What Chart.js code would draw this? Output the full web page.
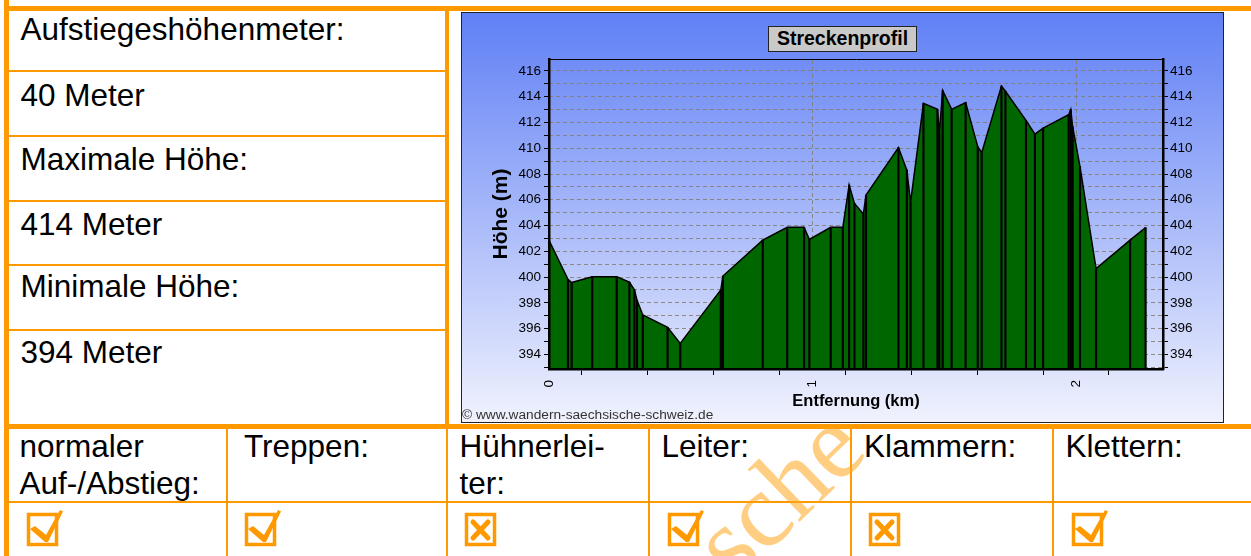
<!DOCTYPE html>
<html>
<head>
<meta charset="utf-8">
<script src="https://cdn.jsdelivr.net/npm/chart.js@4.4.1/dist/chart.umd.min.js"></script>
<style>
  html, body { margin: 0; padding: 0; background: #fff; }
  body { width: 1251px; height: 556px; position: relative; overflow: hidden; font-family: "Liberation Sans", Arial, sans-serif; }
  .ln { position: absolute; background: #ff9900; z-index: 1; }
  .txt { position: absolute; font-size: 31.5px; line-height: 36.7px; color: #000; white-space: nowrap; z-index: 3; }
  .cb { position: absolute; z-index: 3; }
  .mark { position: absolute; left: 778px; top: 494px; transform: translate(-50%, -50%) rotate(-44deg);
          font-family: "Liberation Serif", "DejaVu Serif", serif; font-size: 106px; line-height: 106px;
          color: rgba(255, 165, 30, 0.55); z-index: 2; white-space: nowrap; }
  #profil { position: absolute; left: 461px; top: 12px; width: 763px; height: 411px; box-sizing: border-box;
            border: 1px solid #222; background: linear-gradient(to bottom, #6080f5, #f0f2fd); z-index: 4; }
  #profil canvas { position: absolute; left: 0; top: 0; }
  #titel { position: absolute; left: 306px; top: 13px; width: 149px; height: 26px; box-sizing: border-box;
           border: 1.5px solid #222; background: #c9c9c9; font-weight: bold; font-size: 19.5px; line-height: 23px;
           text-align: center; color: #000; }
  #copy { position: absolute; left: 0; top: 394px; font-size: 13.7px; line-height: 16px; color: #333; white-space: nowrap; }
</style>
</head>
<body>

<!-- Rahmenlinien -->
<div class="ln" style="left:4px;top:0;width:5px;height:556px"></div>
<div class="ln" style="left:4px;top:6px;width:1247px;height:5px"></div>
<div class="ln" style="left:445px;top:11px;width:3.5px;height:414px"></div>
<div class="ln" style="left:9px;top:70px;width:436px;height:2px"></div>
<div class="ln" style="left:9px;top:135px;width:436px;height:2px"></div>
<div class="ln" style="left:9px;top:200px;width:436px;height:2px"></div>
<div class="ln" style="left:9px;top:264px;width:436px;height:2px"></div>
<div class="ln" style="left:9px;top:329px;width:436px;height:2px"></div>
<div class="ln" style="left:4px;top:424px;width:1247px;height:5px"></div>
<div class="ln" style="left:9px;top:501px;width:1242px;height:2px"></div>
<div class="ln" style="left:225.5px;top:428px;width:2px;height:128px"></div>
<div class="ln" style="left:446px;top:428px;width:2px;height:128px"></div>
<div class="ln" style="left:648px;top:428px;width:2px;height:128px"></div>
<div class="ln" style="left:850px;top:428px;width:2px;height:128px"></div>
<div class="ln" style="left:1052px;top:428px;width:2px;height:128px"></div>

<div class="mark">sche</div>

<!-- linke Spalte -->
<div class="txt" style="left:20.5px;top:11.4px">Aufstiegeshöhenmeter:</div>
<div class="txt" style="left:20.5px;top:76.7px">40 Meter</div>
<div class="txt" style="left:20.5px;top:140.7px">Maximale Höhe:</div>
<div class="txt" style="left:20.5px;top:205.7px">414 Meter</div>
<div class="txt" style="left:20.5px;top:268.4px">Minimale Höhe:</div>
<div class="txt" style="left:20.5px;top:334px">394 Meter</div>

<!-- untere Tabelle -->
<div class="txt" style="left:19.5px;top:428px">normaler<br>Auf-/Abstieg:</div>
<div class="txt" style="left:244px;top:428px">Treppen:</div>
<div class="txt" style="left:459.5px;top:428px">Hühnerlei-<br>ter:</div>
<div class="txt" style="left:661.5px;top:428px">Leiter:</div>
<div class="txt" style="left:864px;top:428px">Klammern:</div>
<div class="txt" style="left:1065.5px;top:428px">Klettern:</div>

<svg class="cb" style="left:24.7px;top:509px" width="40" height="40" viewBox="0 0 40 40">
  <rect x="3.5" y="5.5" width="28" height="30" fill="none" stroke="#ff9900" stroke-width="3.5"/>
  <path d="M5 20 L10 17 L21 26 L35 1 L38 2.5 L23 33 L20 33 Z" fill="#ff9900"/>
</svg>
<svg class="cb" style="left:243.2px;top:509px" width="40" height="40" viewBox="0 0 40 40">
  <rect x="3.5" y="5.5" width="28" height="30" fill="none" stroke="#ff9900" stroke-width="3.5"/>
  <path d="M5 20 L10 17 L21 26 L35 1 L38 2.5 L23 33 L20 33 Z" fill="#ff9900"/>
</svg>
<svg class="cb" style="left:463.2px;top:509px" width="40" height="40" viewBox="0 0 40 40">
  <rect x="3.5" y="5.5" width="28" height="30" fill="none" stroke="#ff9900" stroke-width="3.5"/>
  <path d="M10 13 L25 29 M25 13 L10 29" stroke="#ff9900" stroke-width="5" stroke-linecap="round"/>
</svg>
<svg class="cb" style="left:665.8px;top:509px" width="40" height="40" viewBox="0 0 40 40">
  <rect x="3.5" y="5.5" width="28" height="30" fill="none" stroke="#ff9900" stroke-width="3.5"/>
  <path d="M5 20 L10 17 L21 26 L35 1 L38 2.5 L23 33 L20 33 Z" fill="#ff9900"/>
</svg>
<svg class="cb" style="left:866.6px;top:509px" width="40" height="40" viewBox="0 0 40 40">
  <rect x="3.5" y="5.5" width="28" height="30" fill="none" stroke="#ff9900" stroke-width="3.5"/>
  <path d="M10 13 L25 29 M25 13 L10 29" stroke="#ff9900" stroke-width="5" stroke-linecap="round"/>
</svg>
<svg class="cb" style="left:1069.8px;top:509px" width="40" height="40" viewBox="0 0 40 40">
  <rect x="3.5" y="5.5" width="28" height="30" fill="none" stroke="#ff9900" stroke-width="3.5"/>
  <path d="M5 20 L10 17 L21 26 L35 1 L38 2.5 L23 33 L20 33 Z" fill="#ff9900"/>
</svg>

<!-- Streckenprofil -->
<div id="profil">
  <canvas id="profil_canvas" width="761" height="409"></canvas>
  <div id="titel">Streckenprofil</div>
  <div id="copy">© www.wandern-saechsische-schweiz.de</div>
</div>

<script>
// Entfernung (km) der Messpunkte
const distanceKm = [0.000, 0.072, 0.086, 0.164, 0.257, 0.305, 0.324, 0.334, 0.356, 0.450,
    0.498, 0.652, 0.660, 0.811, 0.904, 0.968, 0.988, 1.069, 1.115, 1.139,
    1.159, 1.193, 1.203, 1.326, 1.358, 1.372, 1.421, 1.474, 1.481, 1.494,
    1.528, 1.581, 1.627, 1.642, 1.717, 1.732, 1.810, 1.844, 1.875, 1.972,
    1.980, 1.987, 2.015, 2.076, 2.205, 2.264];
// Höhe (m) an den Messpunkten
const elevationM = [402.85, 399.82, 399.58, 400.03, 400.03, 399.6, 399.0, 398.2, 397.05, 396.1,
    394.85, 399.0, 400.08, 402.87, 403.86, 403.86, 402.92, 403.86, 403.86, 407.15,
    405.72, 404.9, 406.37, 410.05, 408.3, 405.8, 413.49, 413.02, 411.16, 414.47,
    413.02, 413.54, 410.12, 409.65, 414.83, 414.43, 412.17, 411.1, 411.57, 412.6,
    413.0, 411.67, 408.57, 400.65, 402.87, 403.85];
const xTickLabels = [0, 1, 2];
const xGridLines = [1, 2];
const yTickLabels = [394, 396, 398, 400, 402, 404, 406, 408, 410, 412, 414, 416];

const points = distanceKm.map(function (d, i) { return {x: d, y: elevationM[i]}; });
const gridColor = "rgba(130,125,115,0.85)";
const tickFont = {family: "Liberation Sans", size: 13.5};

function hasLabel(list, v) {
    return list.some(function (t) { return Math.abs(t - v) < 1e-6; });
}

// axis lines use border.z = 1 so they sit on top of the green fill, grids stay underneath
window.myProfileChart = new Chart(document.getElementById("profil_canvas").getContext("2d"), {
    type: "line",
    data: {
        datasets: [
            {
                type: "bar",
                label: "Messpunkte",
                data: points,
                backgroundColor: "#000",
                borderWidth: 0,
                barThickness: 1.5,
                order: 0
            }, {
                type: "line",
                label: "Höhe",
                data: points,
                fill: "start",
                backgroundColor: "#006600",
                borderColor: "#000",
                borderWidth: 1.5,
                pointRadius: 0,
                tension: 0,
                order: 1
            }
        ]
    },
    options: {
        responsive: false,
        animation: false,
        devicePixelRatio: 1,
        layout: {
            padding: {top: 46, left: 0, right: 0, bottom: 0}
        },
        plugins: {
            legend: {display: false},
            tooltip: {enabled: false},
            title: {display: false}
        },
        scales: {
            x: {
                type: "linear",
                position: "bottom",
                min: 0,
                max: 2.33,
                offset: false,
                afterFit: function (s) { s.height = 53; },
                grid: {drawOnChartArea: false, tickColor: "#000", tickLength: 6},
                border: {color: "#000", width: 2.5, z: 1},
                ticks: {
                    stepSize: 0.25,
                    includeBounds: false,
                    autoSkip: false,
                    minRotation: 90,
                    maxRotation: 90,
                    padding: 5,
                    color: "#000",
                    font: tickFont,
                    callback: function (v) { return hasLabel(xTickLabels, v) ? String(Math.round(v)) : ""; }
                },
                title: {
                    display: true,
                    text: "Entfernung (km)",
                    color: "#000",
                    font: {family: "Liberation Sans", size: 16.5, weight: "bold"},
                    padding: {top: 0, bottom: 11}
                }
            },
            xTop: {
                type: "linear",
                position: "top",
                min: 0,
                max: 2.33,
                afterFit: function (s) { s.height = 0; },
                ticks: {display: false, stepSize: 0.25, includeBounds: false, autoSkip: false},
                grid: {
                    drawTicks: false,
                    lineWidth: 1,
                    color: function (c) { return c.tick && hasLabel(xGridLines, c.tick.value) ? gridColor : "transparent"; }
                },
                border: {color: "#000", width: 1, dash: [4, 3]}
            },
            y: {
                position: "left",
                min: 392.86,
                max: 416.93,
                afterFit: function (s) { s.width = 87; },
                grid: {drawOnChartArea: false, tickColor: "#000", tickLength: 5},
                border: {color: "#000", width: 2.5, z: 1},
                ticks: {
                    stepSize: 1,
                    includeBounds: false,
                    autoSkip: false,
                    padding: 3,
                    color: "#000",
                    font: tickFont,
                    callback: function (v) { return hasLabel(yTickLabels, v) ? String(Math.round(v)) : ""; }
                },
                title: {
                    display: true,
                    text: "Höhe (m)",
                    color: "#000",
                    font: {family: "Liberation Sans", size: 21, weight: "bold"},
                    padding: {top: 26.4, bottom: 0}
                }
            },
            y2: {
                position: "right",
                min: 392.86,
                max: 416.93,
                afterFit: function (s) { s.width = 60; },
                grid: {color: gridColor, tickColor: "#000", tickLength: 5, lineWidth: 1},
                border: {color: "#000", width: 2.5, dash: [4, 3], z: 1},
                ticks: {
                    stepSize: 1,
                    includeBounds: false,
                    autoSkip: false,
                    padding: 2,
                    color: "#000",
                    font: tickFont,
                    callback: function (v) { return hasLabel(yTickLabels, v) ? String(Math.round(v)) : ""; }
                }
            }
        }
    }
});
</script>
</body>
</html>
